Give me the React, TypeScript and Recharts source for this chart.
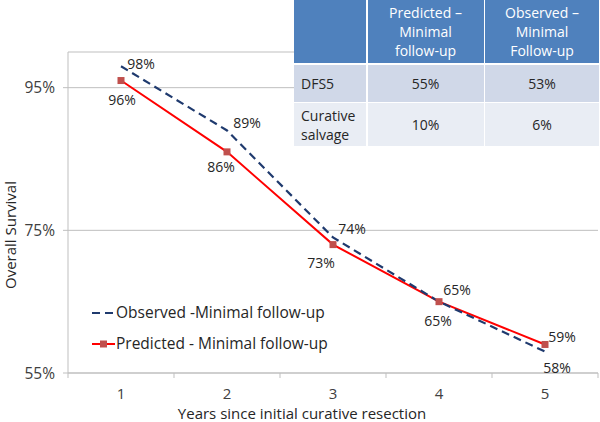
import { LineChart, Line, XAxis, YAxis, CartesianGrid, Legend } from "recharts";

const years = [1, 2, 3, 4, 5];
const observed = [98, 89, 74, 65, 58];
const predicted = [96, 86, 73, 65, 59];
const yTicks = [55, 75, 95];

const seriesNames = ["Observed -Minimal follow-up", "Predicted - Minimal follow-up"];

const tableHead = ["", "Predicted –\nMinimal\nfollow-up", "Observed –\nMinimal\nFollow-up"];
const tableRows = [
  ["DFS5", "55%", "53%"],
  ["Curative\nsalvage", "10%", "6%"],
];

const data = years.map((year, i) => ({ year, observed: observed[i], predicted: predicted[i] }));

// label nudges (px) so the text sits where Excel put it
const obsLabelShift = [[20, -3], [20, -8], [19, -9], [18, -12], [12, 16]];
const predLabelShift = [[1, 19], [-6, 15], [-12, 18], [-1, 19], [17, -8]];

const FONT = "'Open Sans', sans-serif";
const OBS_COLOR = "#1f3a6e";
const PRED_COLOR = "#ff0000";
const MARKER_COLOR = "#c0504d";
const AXIS_COLOR = "#bfbfbf";
const TEXT_COLOR = "#262626";

const makeLabel = (shift: number[][]) => (props: any) => {
  const { x, y, index, value } = props;
  const [dx, dy] = shift[index] || [0, 0];
  return (
    <text
      x={x + dx}
      y={y + dy}
      textAnchor="middle"
      dominantBaseline="central"
      fontFamily={FONT}
      fontSize={14}
      fill={TEXT_COLOR}
    >
      {value}%
    </text>
  );
};

const YearTick = (props: any) => {
  const { x, y, payload, index, width } = props;
  const half = width / (years.length * 2);
  return (
    <g>
      <line x1={x - half} x2={x - half} y1={y} y2={y + 5} stroke={AXIS_COLOR} />
      {index === years.length - 1 && (
        <line x1={x + half} x2={x + half} y1={y} y2={y + 5} stroke={AXIS_COLOR} />
      )}
      <text
        x={x}
        y={y + 20}
        textAnchor="middle"
        dominantBaseline="central"
        fontFamily={FONT}
        fontSize={15}
        fill="#404040"
      >
        {payload.value}
      </text>
    </g>
  );
};

const SquareDot = (props: any) => {
  const { cx, cy } = props;
  return <rect x={cx - 3.5} y={cy - 3.5} width={7} height={7} fill={MARKER_COLOR} />;
};

const renderLegend = () => (
  <div style={{ fontFamily: FONT, fontSize: 15.5, color: TEXT_COLOR, lineHeight: "31px", whiteSpace: "nowrap" }}>
    <div style={{ display: "flex", alignItems: "center" }}>
      <svg width={25} height={10}>
        <line x1={1} x2={22} y1={5} y2={5} stroke={OBS_COLOR} strokeWidth={2.2} strokeDasharray="8 5" />
      </svg>
      <span>{seriesNames[0]}</span>
    </div>
    <div style={{ display: "flex", alignItems: "center" }}>
      <svg width={25} height={10}>
        <line x1={1} x2={24} y1={5} y2={5} stroke={PRED_COLOR} strokeWidth={2} />
        <rect x={9} y={1.5} width={7} height={7} fill={MARKER_COLOR} />
      </svg>
      <span>{seriesNames[1]}</span>
    </div>
  </div>
);

const cellBase: React.CSSProperties = {
  whiteSpace: "pre-line",
  display: "flex",
  alignItems: "center",
  fontFamily: FONT,
  fontSize: 14,
  lineHeight: "19px",
};

export default function App() {
  return (
    <div style={{ position: "absolute", left: 0, top: 0, width: 600, height: 422, background: "#fff" }}>
      <LineChart width={600} height={422} data={data} margin={{ top: 52, right: 2, left: 0, bottom: 0 }}>
        <CartesianGrid vertical={false} stroke={AXIS_COLOR} />
        <XAxis
          dataKey="year"
          type="number"
          domain={[0.5, 5.5]}
          ticks={years}
          height={49}
          tickSize={0}
          tickMargin={0}
          tickLine={false}
          axisLine={{ stroke: AXIS_COLOR }}
          tick={<YearTick />}
          label={{
            content: () => (
              <text x={302} y={413} textAnchor="middle" dominantBaseline="central" fontFamily={FONT} fontSize={15} fill={TEXT_COLOR}>
                Years since initial curative resection
              </text>
            ),
          }}
        />
        <YAxis
          type="number"
          domain={[55, 100]}
          ticks={yTicks}
          width={68}
          tickSize={5}
          tickMargin={8}
          tickLine={{ stroke: AXIS_COLOR }}
          axisLine={{ stroke: AXIS_COLOR }}
          tickFormatter={(v: number) => `${v}%`}
          tick={{ fontFamily: FONT, fontSize: 15.5, fill: "#404040" }}
          label={{
            content: () => (
              <text
                transform="translate(10,235) rotate(-90)"
                textAnchor="middle"
                dominantBaseline="central"
                fontFamily={FONT}
                fontSize={15}
                fill={TEXT_COLOR}
              >
                Overall Survival
              </text>
            ),
          }}
        />
        <Legend
          layout="vertical"
          verticalAlign="middle"
          align="center"
          content={renderLegend}
          wrapperStyle={{ position: "absolute", left: 91, top: 297, width: "auto" }}
        />
        <Line
          type="linear"
          dataKey="predicted"
          name={seriesNames[1]}
          stroke={PRED_COLOR}
          strokeWidth={2}
          dot={<SquareDot />}
          isAnimationActive={false}
          label={makeLabel(predLabelShift)}
        />
        <Line
          type="linear"
          dataKey="observed"
          name={seriesNames[0]}
          stroke={OBS_COLOR}
          strokeWidth={2.2}
          strokeDasharray="8 5"
          dot={false}
          isAnimationActive={false}
          label={makeLabel(obsLabelShift)}
        />
      </LineChart>
      <div
        style={{
          position: "absolute",
          left: 294,
          top: 0,
          display: "grid",
          gridTemplateColumns: "72px 116px 114px",
          gridTemplateRows: "63px 37px 43px",
          gap: 1.5,
          background: "#fff",
        }}
      >
        {tableHead.map((h, i) => (
          <div key={"h" + i} style={{ ...cellBase, background: "#4f81bd", color: "#fff", justifyContent: "center", textAlign: "center" }}>
            {h}
          </div>
        ))}
        {tableRows.map((row, r) =>
          row.map((c, i) => (
            <div
              key={r + "-" + i}
              style={{
                ...cellBase,
                background: r === 0 ? "#d0d8e8" : "#e9edf4",
                color: TEXT_COLOR,
                justifyContent: i === 0 ? "flex-start" : "center",
                paddingLeft: i === 0 ? 7 : 0,
              }}
            >
              {c}
            </div>
          ))
        )}
      </div>
    </div>
  );
}
